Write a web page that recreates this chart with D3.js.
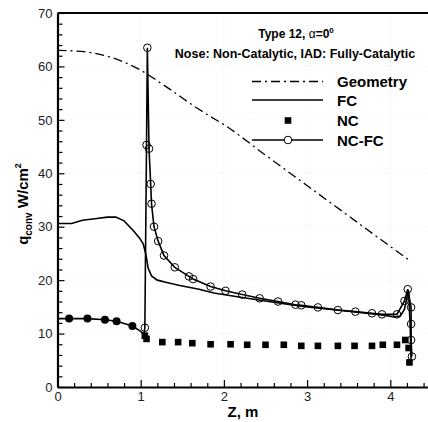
<!DOCTYPE html>
<html>
<head>
<meta charset="utf-8">
<script src="https://cdn.jsdelivr.net/npm/d3@7"></script>
<style>
  body { margin: 0; background: #fff; }
  svg { display: block; font-family: "Liberation Sans", Arial, sans-serif; }
  .tick text { font-size: 13px; fill: #222; }
</style>
</head>
<body>
<div id="chart"></div>
<script>
// Geometry profile (dash-dot)
const geomZ = [0, 0.2, 0.4, 0.6, 0.8, 1.0, 1.2, 1.4, 1.6, 1.8, 2.0, 2.5, 3.0, 3.5, 4.0, 4.24];
const geomQ = [63, 62.9, 62.6, 61.9, 60.8, 59.3, 57.3, 55.2, 53.0, 51.0, 49.1, 43.4, 37.7, 32.0, 26.3, 23.6];

// FC solid line
const fcZ = [0, 0.17, 0.3, 0.45, 0.6, 0.7, 0.8, 0.91, 0.98, 1.03, 1.06, 1.09, 1.13, 1.2, 1.3, 1.47, 1.7, 1.88, 2.2, 2.5, 2.8, 3.0, 3.3, 3.6, 3.9, 4.05, 4.12, 4.17, 4.21, 4.22, 4.24, 4.25];
const fcQ = [30.6, 30.6, 31.2, 31.5, 31.8, 31.8, 31.1, 29.3, 28.0, 26.8, 25.0, 22.2, 20.8, 20.0, 19.6, 19.0, 18.3, 17.6, 16.8, 16.1, 15.4, 15.0, 14.5, 14.0, 13.5, 13.1, 13.3, 14.5, 17.5, 18.0, 11.0, 4.8];

// NC squares (flank)
const ncZ = [1.05, 1.07, 1.26, 1.45, 1.62, 1.84, 2.08, 2.28, 2.50, 2.72, 2.93, 3.13, 3.37, 3.57, 3.78, 3.91, 4.08, 4.18, 4.22, 4.23];
const ncQ = [9.6, 9.0, 8.4, 8.4, 8.2, 8.0, 8.0, 7.9, 7.9, 7.9, 7.7, 7.7, 7.7, 7.7, 7.7, 7.9, 7.9, 8.8, 7.3, 4.6];

// NC nose points (drawn filled, squares on circles)
const ncNoseZ = [0.14, 0.36, 0.57, 0.71, 0.90];
const ncNoseQ = [12.8, 12.8, 12.6, 12.3, 11.4];

// NC-FC line
const ncfcZ = [0, 0.14, 0.36, 0.57, 0.71, 0.90, 1.0, 1.04, 1.05, 1.07, 1.08, 1.10, 1.12, 1.13, 1.16, 1.21, 1.28, 1.41, 1.58, 1.63, 1.84, 2.02, 2.22, 2.43, 2.65, 2.86, 2.93, 3.13, 3.37, 3.58, 3.78, 3.90, 4.08, 4.17, 4.21, 4.25, 4.25, 4.25, 4.26];
const ncfcQ = [12.8, 12.8, 12.8, 12.6, 12.3, 11.4, 10.4, 9.8, 11.1, 45.3, 63.5, 44.6, 38.0, 34.3, 30.0, 27.3, 24.6, 22.4, 20.7, 20.2, 18.8, 18.0, 17.3, 16.6, 16.0, 15.4, 15.3, 14.9, 14.4, 14.1, 13.8, 13.6, 13.6, 16.1, 18.3, 14.9, 11.8, 8.8, 5.7];
// NC-FC open circle markers
const ncfcMarkZ = [1.05, 1.07, 1.08, 1.10, 1.12, 1.13, 1.16, 1.21, 1.28, 1.41, 1.58, 1.63, 1.84, 2.02, 2.22, 2.43, 2.65, 2.86, 2.93, 3.13, 3.37, 3.58, 3.78, 3.90, 4.08, 4.17, 4.21, 4.25, 4.25, 4.25, 4.26];
const ncfcMarkQ = [11.1, 45.3, 63.5, 44.6, 38.0, 34.3, 30.0, 27.3, 24.6, 22.4, 20.7, 20.2, 18.8, 18.0, 17.3, 16.6, 16.0, 15.4, 15.3, 14.9, 14.4, 14.1, 13.8, 13.6, 13.6, 16.1, 18.3, 14.9, 11.8, 8.8, 5.7];

const yTicks = [0, 10, 20, 30, 40, 50, 60, 70];
const xTicks = [0, 1, 2, 3, 4];
const legendNames = ["Geometry", "FC", "NC", "NC-FC"];

const WIDTH = 428, HEIGHT = 422;
const LEFT = 57.5, TOP = 13, BOTTOM = 387;

const svg = d3.select("#chart").append("svg")
    .attr("width", WIDTH)
    .attr("height", HEIGHT);

const x = d3.scaleLinear().domain([0, 4.5]).range([LEFT, LEFT + 4.5 * 83.2]);
const y = d3.scaleLinear().domain([0, 70]).range([BOTTOM, TOP]);

// faint dotted grid
svg.append("g").selectAll("line").data(yTicks.slice(1, -1)).enter().append("line")
    .attr("x1", LEFT).attr("x2", WIDTH)
    .attr("y1", d => y(d)).attr("y2", d => y(d))
    .attr("stroke", "#e4e4e4").attr("stroke-dasharray", "1,3");
svg.append("g").selectAll("line").data(xTicks.slice(1)).enter().append("line")
    .attr("x1", d => x(d)).attr("x2", d => x(d))
    .attr("y1", TOP).attr("y2", BOTTOM)
    .attr("stroke", "#e4e4e4").attr("stroke-dasharray", "1,3");

// Axes (ticks pointing inward)
const yMinor = d3.range(0, 70.1, 2).filter(v => v % 10 !== 0);
const xMinor = d3.range(0, 4.51, 0.2).filter(v => Math.abs(v - Math.round(v)) > 0.01);

const yAxis = svg.append("g")
    .attr("transform", `translate(${LEFT},0)`)
    .call(d3.axisLeft(y).tickValues(yTicks).tickSizeInner(-7).tickSizeOuter(0).tickPadding(5).tickFormat(d3.format("d")));
svg.append("g")
    .attr("transform", `translate(${LEFT},0)`)
    .call(d3.axisLeft(y).tickValues(yMinor).tickSizeInner(-5).tickSizeOuter(0).tickFormat(""))
    .select(".domain").remove();

const xAxis = svg.append("g")
    .attr("transform", `translate(0,${BOTTOM})`)
    .call(d3.axisBottom(x).tickValues(xTicks).tickSizeInner(-7).tickSizeOuter(0).tickPadding(5).tickFormat(d3.format("d")));
svg.append("g")
    .attr("transform", `translate(0,${BOTTOM})`)
    .call(d3.axisBottom(x).tickValues(xMinor).tickSizeInner(-4).tickSizeOuter(0).tickFormat(""))
    .select(".domain").remove();

svg.selectAll(".tick line").attr("stroke", "#000").attr("stroke-width", 1.2);
yAxis.select(".domain").attr("stroke-width", 2.2);
xAxis.select(".domain").attr("stroke-width", 2.2);

// top border
svg.append("line")
    .attr("x1", LEFT).attr("x2", WIDTH)
    .attr("y1", TOP).attr("y2", TOP)
    .attr("stroke", "#000").attr("stroke-width", 2);

// Lines
const line = d3.line().x(d => x(d[0])).y(d => y(d[1]));

svg.append("path")
    .datum(d3.zip(geomZ, geomQ))
    .attr("d", line.curve(d3.curveMonotoneX))
    .attr("fill", "none").attr("stroke", "#000").attr("stroke-width", 1.3)
    .attr("stroke-dasharray", "9,4,2,4");

line.curve(d3.curveLinear);

svg.append("path")
    .datum(d3.zip(fcZ, fcQ))
    .attr("d", line)
    .attr("fill", "none").attr("stroke", "#000").attr("stroke-width", 1.6);

svg.append("path")
    .datum(d3.zip(ncfcZ, ncfcQ))
    .attr("d", line)
    .attr("fill", "none").attr("stroke", "#000").attr("stroke-width", 1.6);

// NC-FC open circles
svg.append("g").selectAll("circle")
    .data(d3.zip(ncfcMarkZ, ncfcMarkQ)).enter().append("circle")
    .attr("cx", d => x(d[0])).attr("cy", d => y(d[1])).attr("r", 3.8)
    .attr("fill", "none").attr("stroke", "#000").attr("stroke-width", 1);

// NC nose filled markers
svg.append("g").selectAll("circle")
    .data(d3.zip(ncNoseZ, ncNoseQ)).enter().append("circle")
    .attr("cx", d => x(d[0])).attr("cy", d => y(d[1])).attr("r", 4)
    .attr("fill", "#000");

// NC squares
svg.append("g").selectAll("rect")
    .data(d3.zip(ncZ, ncQ)).enter().append("rect")
    .attr("x", d => x(d[0]) - 3.3).attr("y", d => y(d[1]) - 3.3)
    .attr("width", 6.6).attr("height", 6.6)
    .attr("fill", "#000");

// Header texts
const header = svg.append("text")
    .attr("x", 296).attr("y", 38)
    .attr("text-anchor", "middle")
    .attr("font-size", 12).attr("font-weight", "bold");
header.append("tspan").text("Type 12, ");
header.append("tspan").attr("font-weight", "normal").text("α");
header.append("tspan").text("=0");
header.append("tspan").attr("font-size", 8).attr("dy", -5).text("0");

svg.append("text")
    .attr("x", 295).attr("y", 58)
    .attr("text-anchor", "middle")
    .attr("font-size", 12.5).attr("font-weight", "bold")
    .text("Nose: Non-Catalytic, IAD: Fully-Catalytic");

// Legend
const legendY = [81.5, 100, 120.5, 140];
const lg = svg.append("g");
legendNames.forEach((name, i) => {
    const ly = legendY[i];
    if (i === 0 || i === 1 || i === 3) {
        lg.append("line")
            .attr("x1", 252).attr("x2", 323)
            .attr("y1", ly).attr("y2", ly)
            .attr("stroke", "#000").attr("stroke-width", i === 0 ? 1.3 : 1.6)
            .attr("stroke-dasharray", i === 0 ? "9,4,2,4" : null);
    }
    if (i === 2) {
        lg.append("rect").attr("x", 288 - 3.3).attr("y", ly - 3.3)
            .attr("width", 6.6).attr("height", 6.6).attr("fill", "#000");
    }
    if (i === 3) {
        lg.append("circle").attr("cx", 288).attr("cy", ly).attr("r", 3.8)
            .attr("fill", "#fff").attr("stroke", "#000");
    }
    lg.append("text")
        .attr("x", 337).attr("y", ly + 5.5)
        .attr("font-size", 15).attr("font-weight", "bold")
        .text(name);
});

// Axis titles
svg.append("text")
    .attr("x", 243).attr("y", 417)
    .attr("text-anchor", "middle")
    .attr("font-size", 15).attr("font-weight", "bold")
    .text("Z, m");

const yTitle = svg.append("text")
    .attr("transform", "translate(28,204)rotate(-90)")
    .attr("text-anchor", "middle")
    .attr("font-size", 15).attr("font-weight", "bold");
yTitle.append("tspan").text("q");
yTitle.append("tspan").attr("font-size", 10).attr("dy", 4).text("conv");
yTitle.append("tspan").attr("dy", -4).text(" W/cm");
yTitle.append("tspan").attr("font-size", 9).attr("dy", -7).text("2");
</script>
</body>
</html>
